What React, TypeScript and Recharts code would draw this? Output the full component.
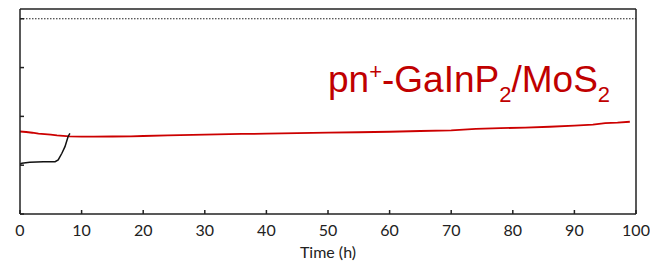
import { LineChart, Line, XAxis, YAxis, ReferenceLine } from 'recharts'

// red trace: pn+-GaInP2/MoS2
const redTime = [0, 1, 2, 3, 4, 5, 6, 7, 8, 10, 12, 15, 18, 20, 24, 28, 32, 36, 40, 45, 50, 55, 60, 65, 70, 74, 78, 82, 86, 90, 93, 95, 97, 99]
const redValue = [1.69, 1.68, 1.665, 1.645, 1.635, 1.625, 1.61, 1.6, 1.59, 1.585, 1.585, 1.588, 1.59, 1.598, 1.61, 1.62, 1.63, 1.64, 1.645, 1.655, 1.667, 1.675, 1.685, 1.7, 1.715, 1.745, 1.758, 1.77, 1.788, 1.81, 1.83, 1.86, 1.87, 1.89]

// black trace (short run)
const blackTime = [0, 0.3, 1.6, 3.8, 5.7, 6.2, 6.8, 7.3, 7.8, 8.1]
const blackValue = [1.02, 1.04, 1.06, 1.072, 1.072, 1.107, 1.244, 1.38, 1.584, 1.654]

const xTicks = [0, 10, 20, 30, 40, 50, 60, 70, 80, 90, 100]
const yTicks = [0, 1, 2, 3, 4]

const redData = redTime.map((t, i) => ({ t, v: redValue[i] }))
const blackData = blackTime.map((t, i) => ({ t, v: blackValue[i] }))

const axisFont = { fill: '#222', fontSize: 16, fontFamily: 'Lato, sans-serif' }

export default function App() {
  return (
    <div style={{ position: 'absolute', left: 0, top: 0, width: 650, height: 262, background: '#fff' }}>
      <LineChart width={650} height={262} margin={{ top: 9, right: 14, bottom: 0, left: 0 }}>
        <XAxis
          dataKey="t"
          type="number"
          domain={[0, 100]}
          ticks={xTicks}
          height={48}
          tick={axisFont}
          tickSize={-4}
          tickMargin={15}
          axisLine={{ stroke: '#222', strokeWidth: 1.5 }}
          tickLine={{ stroke: '#222', strokeWidth: 1.5 }}
          allowDataOverflow
          label={{ value: 'Time (h)', position: 'insideBottom', offset: 4, ...axisFont }}
        />
        <YAxis
          type="number"
          domain={[0, 4.2]}
          ticks={yTicks}
          width={20}
          tick={() => <g />}
          tickSize={-4}
          axisLine={{ stroke: '#222', strokeWidth: 1.5 }}
          tickLine={{ stroke: '#222', strokeWidth: 1.5 }}
          allowDataOverflow
        />
        <ReferenceLine y={4.2} stroke="#222" strokeWidth={1.5} />
        <ReferenceLine x={100} stroke="#222" strokeWidth={1.5} />
        <ReferenceLine y={4} stroke="#222" strokeWidth={1.2} strokeDasharray="1.5 1.5" />
        <Line
          data={redData}
          dataKey="v"
          type="linear"
          stroke="#cc0000"
          strokeWidth={1.8}
          dot={false}
          isAnimationActive={false}
        />
        <Line
          data={blackData}
          dataKey="v"
          type="linear"
          stroke="#111"
          strokeWidth={1.5}
          dot={false}
          isAnimationActive={false}
        />
      </LineChart>
      <svg width={650} height={262} style={{ position: 'absolute', left: 0, top: 0, pointerEvents: 'none' }}>
        <text x={328} y={92} fontFamily="'Liberation Sans', Arial, sans-serif" fontSize={37} fill="#c00000">
          pn
          <tspan fontSize={22} dy={-13}>+</tspan>
          <tspan dy={13}>-GaInP</tspan>
          <tspan fontSize={22} dy={10}>2</tspan>
          <tspan dy={-10}>/MoS</tspan>
          <tspan fontSize={22} dy={10}>2</tspan>
        </text>
      </svg>
    </div>
  )
}
